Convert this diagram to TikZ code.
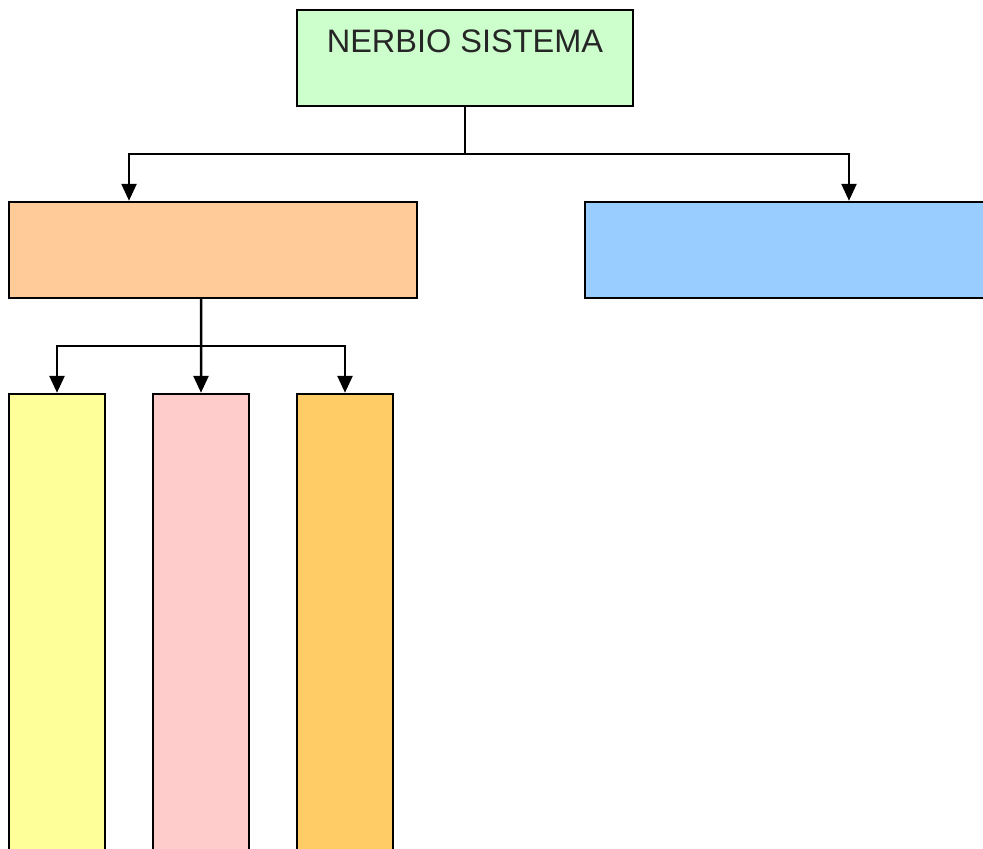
\documentclass[tikz,border=0pt]{standalone}
\usepackage{fontspec}
\setmainfont{Liberation Sans}
\usetikzlibrary{arrows.meta}
\definecolor{titlegreen}{HTML}{CCFFCC}
\definecolor{boxorange}{HTML}{FFCC99}
\definecolor{boxblue}{HTML}{99CCFF}
\definecolor{boxyellow}{HTML}{FFFF99}
\definecolor{boxpink}{HTML}{FFCCCC}
\definecolor{boxgold}{HTML}{FFCC66}
\tikzset{
    box/.style={draw=black,line width=0.05cm,inner sep=0pt},
    link/.style={line width=0.05cm,-{Triangle[length=0.34cm,width=0.3cm]}},
}

\begin{document}
\begin{tikzpicture}[x=0.02cm,y=-0.02cm]
    \clip (0,0) rectangle (983,848);
    %\draw[help lines,line width=0.1pt,blue] (0,0) grid[step=50] (983,848);
	\node[box,fill=titlegreen,minimum width=6.72cm,text height=0.86cm,text depth=1.06cm,
	      font=\fontsize{18.5}{22}\selectfont,text=black!85] (title) at (465,58) {NERBIO SISTEMA};
	\node[box,fill=boxorange,minimum width=8.16cm,minimum height=1.92cm] (nervA) at (213,250) {};
	\node[box,fill=boxblue,minimum width=8.16cm,minimum height=1.92cm] (nervB) at (789,250) {};
	\node[box,fill=boxyellow,minimum width=1.92cm,minimum height=10cm] (childA) at (57,644) {};
	\node[box,fill=boxpink,minimum width=1.92cm,minimum height=10cm] (childB) at (201,644) {};
	\node[box,fill=boxgold,minimum width=1.92cm,minimum height=10cm] (childC) at (345,644) {};
	% branches
	\coordinate (topbar) at (465,154);
	\coordinate (midbar) at (201,346);
	\draw[line width=0.05cm] (title.south) -- (topbar);
	\draw[link] (topbar) -| ([xshift=-1.68cm]nervA.north);
	\draw[link] (topbar) -| ([xshift=1.2cm]nervB.north);
	\draw[link] ([xshift=-0.24cm]nervA.south) -- (childB.north);
	\draw[link] (midbar) -| (childA.north);
	\draw[link] (midbar) -| (childC.north);
\end{tikzpicture}
\end{document}
